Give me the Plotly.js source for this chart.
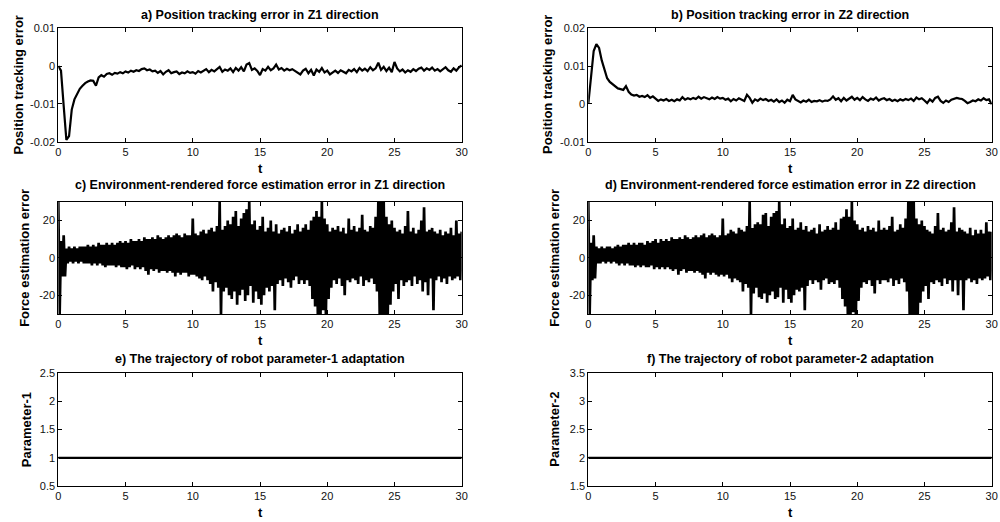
<!DOCTYPE html>
<html>
<head>
<meta charset="utf-8">
<script src="https://cdn.plot.ly/plotly-3.0.1.min.js"></script>
<style>html,body{margin:0;padding:0;background:#fff;}#chart{width:1000px;height:522px;}</style>
</head>
<body>
<div id="chart"></div>
<script>
// ---------- DATA ----------
// sampling step of the recorded signals (seconds)
const SAMPLE_STEP = 0.2;

// a) position tracking error, Z1 (t = 0, 0.2, ..., 30)
const posErrZ1 = [
  0, -0.0012, -0.0105, -0.0195, -0.0185, -0.0115, -0.0088, -0.0072, -0.006, -0.0052,
  -0.0045, -0.0041, -0.0038, -0.0039, -0.0052, -0.003, -0.0024, -0.0028, -0.0021, -0.0019,
  -0.0023, -0.0018, -0.002, -0.0016, -0.0019, -0.0014, -0.0017, -0.0012, -0.0015, -0.0011,
  -0.0013, -0.0008, -0.0006, -0.0011, -0.0009, -0.0014, -0.0012, -0.0018, -0.0013, -0.0022,
  -0.0015, -0.0011, -0.0019, -0.0016, -0.0014, -0.0021, -0.0017, -0.0019, -0.0014, -0.0018,
  -0.0016, -0.002, -0.0013, -0.0017, -0.0012, -0.0008, -0.0016, -0.001, -0.0014, -0.0007,
  -0.0002, -0.0015, -0.0009, -0.0012, -0.0006, -0.0016, -0.0005, -0.0012, -0.0003, -0.0014,
  0.0004, 0.0008, -0.001, -0.0006, -0.0013, -0.0024, -0.0008, -0.0012, -0.0002, -0.0011,
  -0.0006, 0.0004, -0.0009, -0.0005, -0.0012, -0.0007, -0.0011, -0.0008, -0.0013, -0.0016,
  -0.0022, -0.0012, -0.0007, -0.0019, -0.001, -0.0025, -0.0009, -0.0015, -0.0005, -0.0017,
  -0.0012, -0.0022, -0.0016, -0.0012, -0.0018, -0.0011, -0.0015, -0.0019, -0.001, -0.0014,
  -0.0008, -0.0016, -0.0005, -0.0012, -0.0007, -0.0013, -0.0003, -0.0011, -0.0006, 0.0009,
  -0.001, -0.0002, -0.0013, -0.0004, -0.0016, 0.0011, -0.0006, -0.0014, -0.0009, -0.0017,
  -0.0011, -0.0015, -0.0008, -0.0013, -0.0007, -0.0004, -0.0012, -0.0006, -0.001, -0.0004,
  -0.0012, -0.0008, -0.0014, -0.0009, -0.0003, -0.0011, -0.0015, -0.0006, -0.0012, -0.0003,
  0.0002
];

// b) position tracking error, Z2 (t = 0, 0.2, ..., 30)
const posErrZ2 = [
  0, 0.0065, 0.014, 0.0158, 0.0148, 0.0115, 0.0088, 0.0068, 0.0058, 0.0052,
  0.0045, 0.0041, 0.0039, 0.0037, 0.0047, 0.0032, 0.0025, 0.0022, 0.0024, 0.0019,
  0.0021, 0.0018, 0.0023, 0.0016, 0.002, 0.0013, 0.0008, 0.0012, 0.0009, 0.0013,
  0.0008, 0.0011, 0.0007, 0.0012, 0.0009, 0.0018, 0.0011, 0.0015, 0.0012, 0.0016,
  0.0013, 0.0019, 0.0014, 0.0018, 0.0015, 0.0012, 0.0017, 0.0013, 0.0018, 0.0014,
  0.0016, 0.0011, 0.0014, 0.0007, 0.0013, 0.0009, 0.0015, 0.0012, 0.0008, 0.0024,
  0.0016, 0.0003, 0.0012, 0.0008, 0.0014, 0.001, 0.0013, 0.0008, 0.0011, 0.0006,
  0.0012, 0.0005, 0.0009, 0.0003, 0.0011, 0.0007, 0.0024, 0.0012, 0.0007, 0.0004,
  0.0009, 0.0006, 0.0011, 0.0005, 0.0008, 0.0007, 0.001, 0.0006, 0.0009, 0.0008,
  0.0012, 0.002, 0.0011, 0.0015, 0.0007, 0.0016, 0.0009, 0.0013, 0.0019, 0.0011,
  0.0016, 0.001, 0.0018, 0.0012, 0.0008, 0.0014, 0.0011, 0.0017, 0.0009, 0.0013,
  0.0015, 0.001, 0.0013, 0.0008, 0.0011, 0.0007, 0.0012, 0.0009, 0.0013, 0.001,
  0.0014, 0.0008, 0.0017, 0.0012, 0.0015, 0.0009, 0.0002, 0.0012, 0.0006, 0.0016,
  0.0019, 0.0008, 0.0003, 0.0009, 0.0005, 0.0011, 0.0014, 0.0016, 0.0014, 0.0013,
  0.0008, 0.0002, 0.0005, 0.0009, 0.0007, 0.0012, 0.0009, 0.0015, 0.001, 0.0012,
  -0.0001
];

// c) force estimation error Z1: upper swings (t = 0, 0.2, ...) and lower swings (t = 0.1, 0.3, ...)
const forceZ1High = [
  30, 9, 12, 5, 6, 5, 6, 5, 6, 6,
  6, 7, 6, 7, 6, 8, 7, 7, 8, 7,
  8, 7, 8, 9, 8, 9, 8, 10, 9, 9,
  10, 9, 11, 10, 10, 11, 10, 12, 11, 10,
  11, 12, 11, 12, 13, 12, 11, 13, 12, 12,
  21, 13, 12, 14, 15, 13, 15, 16, 14, 17,
  30, 15, 17, 20, 18, 22, 25, 17, 21, 24,
  26, 30, 18, 20, 15, 17, 22, 14, 16, 20,
  14, 18, 13, 15, 16, 14, 17, 13, 15, 18,
  14, 16, 18, 15, 20, 22, 25, 22, 30, 21,
  18, 14, 16, 15, 17, 14, 16, 13, 21, 15,
  17, 14, 16, 23, 15, 14, 17, 16, 22, 30,
  30, 30, 22, 18, 20, 16, 14, 15, 13, 17,
  25, 14, 16, 13, 15, 20, 27, 14, 15, 16,
  14, 13, 15, 12, 14, 13, 16, 12, 20, 13,
  14
];
const forceZ1Low = [
  -30, -10, -10, -3, -2, -3, -2, -3, -2, -3,
  -3, -3, -4, -3, -4, -3, -4, -5, -4, -4,
  -4, -5, -4, -5, -5, -6, -5, -4, -6, -5,
  -6, -5, -7, -9, -6, -7, -6, -8, -7, -7,
  -8, -7, -8, -10, -8, -9, -8, -8, -10, -9,
  -9, -10, -11, -12, -10, -12, -14, -18, -13, -16,
  -30, -18, -16, -20, -22, -18, -25, -20, -17, -23,
  -20, -15, -24, -18, -22, -25, -20, -16, -18, -15,
  -28, -14, -12, -15, -11, -13, -16, -12, -10, -14,
  -12, -14, -12, -15, -22, -26, -30, -30, -28, -30,
  -22, -16, -12, -14, -11, -15, -20, -12, -13, -11,
  -12, -14, -10, -15, -12, -13, -11, -14, -18, -30,
  -30, -30, -30, -25, -18, -14, -22, -12, -15, -13,
  -12, -15, -10, -14, -12, -18, -13, -20, -11, -28,
  -12, -10, -13, -11, -14, -10, -12, -11, -10, -12
];

// d) force estimation error Z2
const forceZ2High = [
  30, 8, 12, 6, 5, 6, 5, 6, 6, 5,
  6, 7, 6, 7, 7, 8, 7, 8, 7, 8,
  8, 7, 9, 8, 9, 10, 8, 10, 9, 10,
  9, 11, 10, 10, 11, 10, 12, 11, 10, 11,
  12, 11, 12, 13, 11, 12, 13, 12, 11, 12,
  21, 12, 13, 15, 14, 13, 16, 15, 14, 17,
  30, 16, 18, 19, 18, 23, 24, 17, 22, 24,
  25, 30, 18, 21, 16, 17, 21, 15, 16, 19,
  15, 17, 14, 15, 16, 13, 18, 14, 15, 17,
  15, 16, 19, 15, 21, 22, 26, 22, 30, 20,
  18, 15, 16, 14, 17, 15, 16, 14, 20, 15,
  16, 15, 17, 22, 14, 15, 18, 16, 21, 30,
  30, 30, 21, 18, 20, 17, 15, 14, 13, 17,
  24, 15, 16, 14, 15, 19, 27, 14, 16, 15,
  14, 13, 16, 12, 15, 13, 15, 13, 19, 14,
  14
];
const forceZ2Low = [
  -30, -12, -11, -3, -3, -2, -3, -2, -3, -2,
  -3, -4, -3, -4, -3, -4, -4, -5, -4, -5,
  -4, -5, -5, -4, -6, -5, -6, -5, -6, -5,
  -6, -7, -6, -9, -7, -6, -8, -7, -7, -8,
  -7, -8, -9, -11, -8, -9, -8, -9, -10, -9,
  -10, -9, -11, -13, -11, -12, -13, -18, -14, -16,
  -30, -19, -16, -21, -22, -19, -24, -20, -18, -22,
  -21, -16, -24, -17, -22, -24, -20, -17, -18, -16,
  -28, -15, -12, -14, -12, -13, -17, -12, -11, -14,
  -13, -14, -12, -16, -22, -26, -30, -30, -29, -30,
  -23, -16, -13, -14, -12, -15, -19, -12, -14, -12,
  -12, -13, -11, -15, -12, -14, -11, -13, -18, -30,
  -30, -30, -30, -24, -18, -15, -22, -13, -14, -12,
  -13, -15, -11, -14, -12, -18, -12, -20, -12, -28,
  -12, -11, -13, -12, -14, -11, -12, -11, -10, -12
];

// e), f) robot parameter adaptation (constant over the whole run)
const paramTime = [0, 30];
const param1 = [1, 1];
const param2 = [2, 2];

// tick labels
const xTickVals = [0, 5, 10, 15, 20, 25, 30];
const xTickText = ['0', '5', '10', '15', '20', '25', '30'];
const yTickValsA = [-0.02, -0.01, 0, 0.01];
const yTickTextA = ['-0.02', '-0.01', '0', '0.01'];
const yTickValsB = [-0.01, 0, 0.01, 0.02];
const yTickTextB = ['-0.01', '0', '0.01', '0.02'];
const yTickValsF = [-20, 0, 20];
const yTickTextF = ['-20', '0', '20'];
const yTickValsE = [0.5, 1, 1.5, 2, 2.5];
const yTickTextE = ['0.5', '1', '1.5', '2', '2.5'];
const yTickValsP2 = [1.5, 2, 2.5, 3, 3.5];
const yTickTextP2 = ['1.5', '2', '2.5', '3', '3.5'];

const panelTitles = [
  'a) Position tracking error in Z1 direction',
  'b) Position tracking error in Z2 direction',
  'c) Environment-rendered force estimation error in Z1 direction',
  'd) Environment-rendered force estimation error in Z2 direction',
  'e) The trajectory of robot parameter-1 adaptation',
  'f) The trajectory of robot parameter-2 adaptation'
];
const yTitles = ['Position tracking error', 'Position tracking error',
  'Force estimation error', 'Force estimation error', 'Parameter-1', 'Parameter-2'];
const xTitle = 't';

// ---------- BUILD ----------
const posTime = posErrZ1.map((_, k) => +(k * SAMPLE_STEP).toFixed(2));
function interleave(hi, lo) {
  const t = [], y = [];
  for (let k = 0; k < hi.length; k++) {
    t.push(+(k * SAMPLE_STEP).toFixed(2)); y.push(hi[k]);
    if (k < lo.length) { t.push(+(k * SAMPLE_STEP + SAMPLE_STEP / 2).toFixed(2)); y.push(lo[k]); }
  }
  return {t, y};
}
const fz1 = interleave(forceZ1High, forceZ1Low);
const fz2 = interleave(forceZ2High, forceZ2Low);

const FONT = '"Liberation Sans", Arial, Helvetica, sans-serif';
const line = (w) => ({color: '#000', width: w});

const traces = [
  {x: posTime, y: posErrZ1, xaxis: 'x', yaxis: 'y', type: 'scatter', mode: 'lines', line: line(2.2)},
  {x: posTime, y: posErrZ2, xaxis: 'x2', yaxis: 'y2', type: 'scatter', mode: 'lines', line: line(2.2)},
  {x: fz1.t, y: fz1.y, xaxis: 'x3', yaxis: 'y3', type: 'scatter', mode: 'lines', line: line(2.7)},
  {x: fz2.t, y: fz2.y, xaxis: 'x4', yaxis: 'y4', type: 'scatter', mode: 'lines', line: line(2.7)},
  {x: paramTime, y: param1, xaxis: 'x5', yaxis: 'y5', type: 'scatter', mode: 'lines', line: line(2.2)},
  {x: paramTime, y: param2, xaxis: 'x6', yaxis: 'y6', type: 'scatter', mode: 'lines', line: line(2.2)}
];

const colDom = [[0.0583, 0.4617], [0.5883, 0.9917]];
const rowDom = [[0.7285, 0.9458], [0.3985, 0.6136], [0.0690, 0.2849]];

function xAxis(col, row, anchor) {
  return {
    domain: colDom[col], anchor: anchor, range: [0, 30],
    tickvals: xTickVals, ticktext: xTickText,
    ticks: 'inside', ticklen: 4, tickcolor: '#000', tickwidth: 1,
    showline: true, linecolor: '#000', linewidth: 1, mirror: 'allticks',
    showgrid: false, zeroline: false, fixedrange: true,
    tickfont: {family: FONT, size: 11, color: '#111'}
  };
}
function yAxis(col, row, anchor, range, vals, text) {
  return {
    domain: rowDom[row], anchor: anchor, range: range,
    tickvals: vals, ticktext: text,
    ticks: 'inside', ticklen: 4, tickcolor: '#000', tickwidth: 1,
    showline: true, linecolor: '#000', linewidth: 1, mirror: 'allticks',
    showgrid: false, zeroline: false, fixedrange: true,
    tickfont: {family: FONT, size: 11, color: '#111'}
  };
}

const layout = {
  width: 1000, height: 522,
  margin: {l: 0, r: 0, t: 0, b: 0},
  paper_bgcolor: '#fff', plot_bgcolor: '#fff',
  showlegend: false,
  font: {family: FONT, color: '#000'},
  xaxis: xAxis(0, 0, 'y'),   yaxis: yAxis(0, 0, 'x', [-0.02, 0.01], yTickValsA, yTickTextA),
  xaxis2: xAxis(1, 0, 'y2'), yaxis2: yAxis(1, 0, 'x2', [-0.01, 0.02], yTickValsB, yTickTextB),
  xaxis3: xAxis(0, 1, 'y3'), yaxis3: yAxis(0, 1, 'x3', [-30, 30], yTickValsF, yTickTextF),
  xaxis4: xAxis(1, 1, 'y4'), yaxis4: yAxis(1, 1, 'x4', [-30, 30], yTickValsF, yTickTextF),
  xaxis5: xAxis(0, 2, 'y5'), yaxis5: yAxis(0, 2, 'x5', [0.5, 2.5], yTickValsE, yTickTextE),
  xaxis6: xAxis(1, 2, 'y6'), yaxis6: yAxis(1, 2, 'x6', [1.5, 3.5], yTickValsP2, yTickTextP2),
  annotations: []
};

// panel titles, x titles, y titles (pixel centres)
const titleY = [15, 185, 358.5];
const xTitleY = [168.5, 340.5, 512];
const yTitleX = [[18.5, 547], [25, 555], [26.5, 555]];
for (let i = 0; i < 6; i++) {
  const col = i % 2, row = Math.floor(i / 2);
  const cx = (colDom[col][0] + colDom[col][1]) / 2;
  const cy = (rowDom[row][0] + rowDom[row][1]) / 2;
  layout.annotations.push({
    text: '<b>' + panelTitles[i] + '</b>', xref: 'paper', yref: 'paper',
    x: cx, y: 1 - titleY[row] / 522, xanchor: 'center', yanchor: 'middle',
    showarrow: false, font: {family: FONT, size: 12.5, color: '#000'}
  });
  layout.annotations.push({
    text: '<b>' + xTitle + '</b>', xref: 'paper', yref: 'paper',
    x: cx, y: 1 - xTitleY[row] / 522, xanchor: 'center', yanchor: 'middle',
    showarrow: false, font: {family: FONT, size: 13, color: '#000'}
  });
  layout.annotations.push({
    text: '<b>' + yTitles[i] + '</b>', xref: 'paper', yref: 'paper',
    x: yTitleX[row][col] / 1000, y: cy, xanchor: 'center', yanchor: 'middle',
    textangle: -90, showarrow: false, font: {family: FONT, size: 13, color: '#000'}
  });
}

Plotly.newPlot('chart', traces, layout, {staticPlot: true, displayModeBar: false});
</script>
</body>
</html>
